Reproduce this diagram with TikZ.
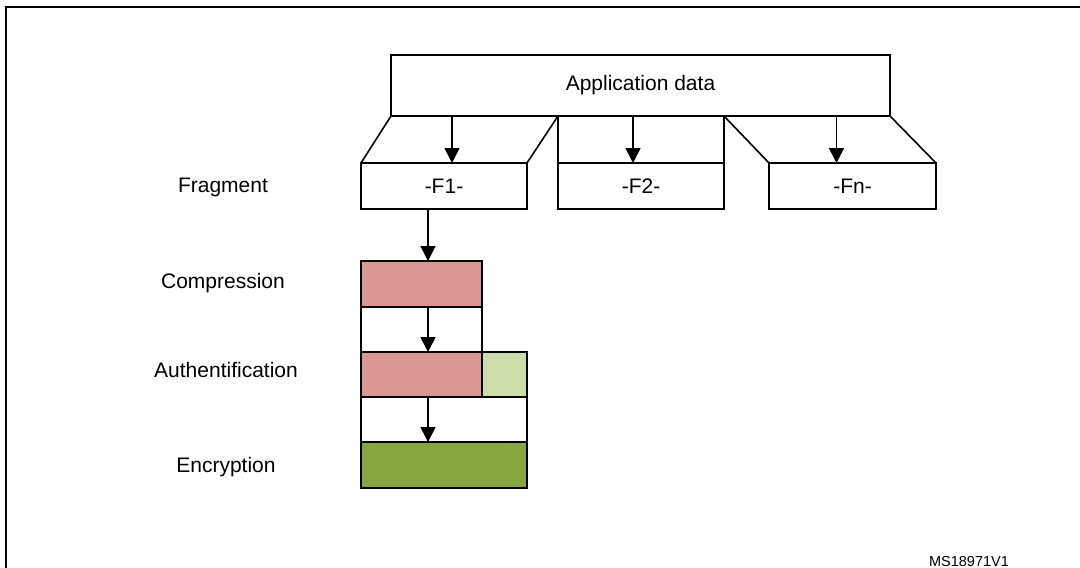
\documentclass[tikz,border=0pt]{standalone}
\usepackage{fontspec}
\setmainfont{Liberation Sans}
\usetikzlibrary{arrows.meta}
\definecolor{comp}{HTML}{DA9694}
\definecolor{authg}{HTML}{CCDDAA}
\definecolor{encg}{HTML}{87A642}
\begin{document}
\begin{tikzpicture}[x=1pt,y=-1pt,
  box/.style={draw, line width=1.6pt, inner sep=0pt, outer sep=0pt, anchor=north west,
    font=\fontsize{21}{25}\selectfont},
  arr/.style={-{Triangle[width=15pt,length=15pt]}, line width=1.6pt},
  conn/.style={line width=1.6pt},
  lbl/.style={anchor=base, inner sep=0pt, font=\fontsize{21}{25}\selectfont}]
\useasboundingbox (0,0) rectangle (1080,568);
\fill[white] (0,0) rectangle (1080,568);
% frame
\draw[line width=2.5pt] (1081,7) -- (6,7) -- (6,569);

% top boxes
\node[box, minimum width=499pt, minimum height=61pt] (app) at (391,55) {Application data};
\node[box, minimum width=166pt, minimum height=46pt] (f1) at (361,163) {-F1-};
\node[box, minimum width=166pt, minimum height=46pt] (f2) at (558,163) {-F2-};
\node[box, minimum width=167pt, minimum height=46pt] (fn) at (769,163) {-Fn-};

\coordinate (s1) at (558,116);
\coordinate (s2) at (724,116);
\draw[conn] (app.south west) -- (f1.north west);
\draw[conn] (s1) -- (f1.north east);
\draw[conn] (s1) -- (f2.north west);
\draw[conn] (s2) -- (f2.north east);
\draw[conn] (s2) -- (fn.north west);
\draw[conn] (app.south east) -- (fn.north east);

\draw[arr] ([xshift=8pt]f1.north |- app.south) -- ([xshift=8pt]f1.north);
\draw[arr] ([xshift=-8pt]f2.north |- app.south) -- ([xshift=-8pt]f2.north);
\draw[arr] ([xshift=-16pt]fn.north |- app.south) -- ([xshift=-16pt]fn.north);

% processing stack
\node[box, fill=comp, minimum width=121pt, minimum height=46pt] (comp) at (361,261) {};
\node[box, minimum width=121pt, minimum height=45pt] (gap1) at (361,307) {};
\node[box, fill=comp, minimum width=121pt, minimum height=45pt] (authr) at (361,352) {};
\node[box, fill=authg, minimum width=45pt, minimum height=45pt] (authm) at (482,352) {};
\node[box, minimum width=166pt, minimum height=45pt] (gap2) at (361,397) {};
\node[box, fill=encg, minimum width=166pt, minimum height=46pt] (enc) at (361,442) {};

\coordinate (ax) at (428,0);
\draw[arr] (ax |- f1.south) -- (ax |- comp.north);
\draw[arr] (ax |- comp.south) -- (ax |- authr.north);
\draw[arr] (ax |- authr.south) -- (ax |- enc.north);

% labels
\node[lbl] (lf) at (223,192) {Fragment};
\node[lbl] (lc) at (223,288) {Compression};
\node[lbl] (la) at (226,377) {Authentification};
\node[lbl] (le) at (226,472) {Encryption};

\node[anchor=base, inner sep=0pt, font=\fontsize{14.5}{16}\selectfont] (ms) at (969,566) {MS18971V1};
\end{tikzpicture}
\end{document}
